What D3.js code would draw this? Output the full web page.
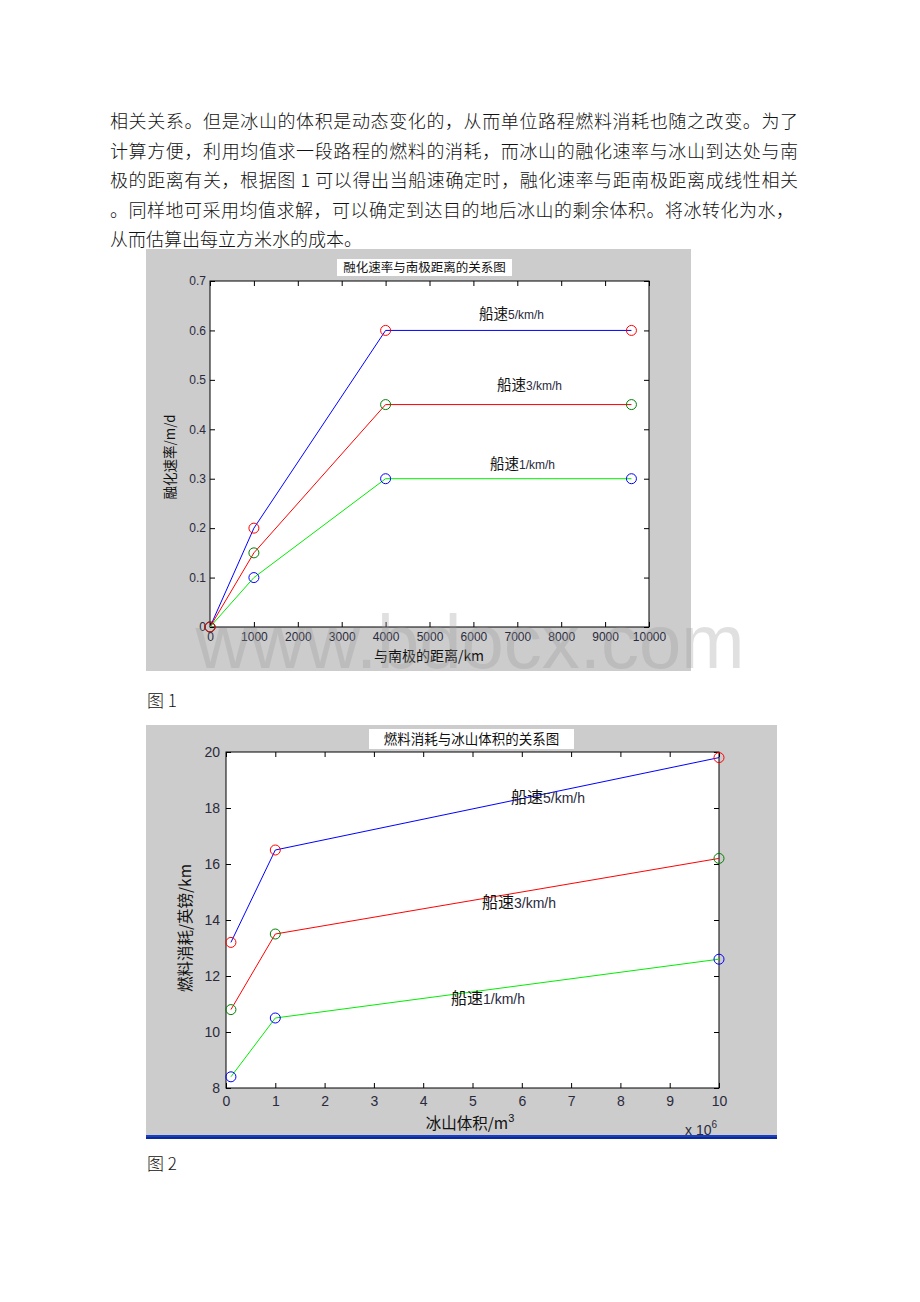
<!DOCTYPE html>
<html><head><meta charset="utf-8">
<script src="https://cdn.jsdelivr.net/npm/d3@7/dist/d3.min.js"></script>
<style>
html,body{margin:0;padding:0;background:#fff;}
svg{display:block;}
</style></head>
<body>
<svg id="page" width="920" height="1302"></svg>
<script>
// ---------- data ----------
const paragraph = [
  "相关关系。但是冰山的体积是动态变化的，从而单位路程燃料消耗也随之改变。为了",
  "计算方便，利用均值求一段路程的燃料的消耗，而冰山的融化速率与冰山到达处与南",
  "极的距离有关，根据图 1 可以得出当船速确定时，融化速率与距南极距离成线性相关",
  "。同样地可采用均值求解，可以确定到达目的地后冰山的剩余体积。将冰转化为水，",
  "从而估算出每立方米水的成本。"
];
const speeds = [5, 3, 1];
// Figure 1: melt rate vs distance to South Pole
const dist = [0, 1000, 4000, 9600];
const melt5 = [0, 0.2, 0.6, 0.6];
const melt3 = [0, 0.15, 0.45, 0.45];
const melt1 = [0, 0.1, 0.3, 0.3];
const distTicks = [0,1000,2000,3000,4000,5000,6000,7000,8000,9000,10000];
const meltTicks = [0,0.1,0.2,0.3,0.4,0.5,0.6,0.7];
// Figure 2: fuel consumption vs iceberg volume (x 10^6 m^3)
const vol = [0.1, 1, 10];
const fuel5 = [13.2, 16.5, 19.8];
const fuel3 = [10.8, 13.5, 16.2];
const fuel1 = [8.4, 10.5, 12.6];
const volTicks = [0,1,2,3,4,5,6,7,8,9,10];
const fuelTicks = [8,10,12,14,16,18,20];

const svg = d3.select("#page");
const CJK = "'Noto Sans CJK SC','Noto Sans',sans-serif";
const NUM = "'Liberation Sans',Arial,sans-serif";
const TICKCOL = "#2a2a3c";

// ---------- paragraph ----------
paragraph.forEach((t, i) => {
  const tx = svg.append("text")
    .attr("x", 110).attr("y", 128 + i * 29.5)
    .attr("font-family", CJK).attr("font-size", 18).attr("font-weight", 300)
    .attr("fill", "#111").text(t);
  if (i < 4) tx.attr("textLength", i === 3 ? 684 : 688).attr("lengthAdjust", "spacing");
});

function drawChart(o) {
  const g = svg.append("g");
  g.append("rect").attr("x", o.panel[0]).attr("y", o.panel[1])
    .attr("width", o.panel[2]).attr("height", o.panel[3]).attr("fill", "#cccccc");
  const x = d3.scaleLinear().domain(o.xDomain).range([o.plot[0], o.plot[1]]);
  const y = d3.scaleLinear().domain(o.yDomain).range([o.plot[3], o.plot[2]]);
  g.append("rect").attr("x", o.plot[0]).attr("y", o.plot[2])
    .attr("width", o.plot[1]-o.plot[0]).attr("height", o.plot[3]-o.plot[2])
    .attr("fill", "#fff");

  // axes with inward ticks on all four sides
  const tl = 5;
  const mk = (axis, tr) => g.append("g").attr("transform", tr).call(axis)
    .call(s => s.select(".domain").remove())
    .call(s => s.selectAll("line").attr("stroke", "#000"));
  const bottom = mk(d3.axisBottom(x).tickValues(o.xTicks).tickSize(-tl).tickFormat(o.xFmt),
                    `translate(0,${o.plot[3]})`);
  bottom.selectAll("text").attr("y", o.xLabOff).attr("font-family", NUM)
    .attr("font-size", o.tickFont).attr("fill", TICKCOL);
  mk(d3.axisTop(x).tickValues(o.xTicks).tickSize(-tl).tickFormat(""), `translate(0,${o.plot[2]})`);
  const left = mk(d3.axisLeft(y).tickValues(o.yTicks).tickSize(-tl).tickFormat(o.yFmt),
                  `translate(${o.plot[0]},0)`);
  left.selectAll("text").attr("x", -o.yLabOff).attr("font-family", NUM)
    .attr("font-size", o.tickFont).attr("fill", TICKCOL);
  mk(d3.axisRight(y).tickValues(o.yTicks).tickSize(-tl).tickFormat(""), `translate(${o.plot[1]},0)`);
  g.append("rect").attr("x", o.plot[0]).attr("y", o.plot[2])
    .attr("width", o.plot[1]-o.plot[0]).attr("height", o.plot[3]-o.plot[2])
    .attr("fill", "none").attr("stroke", "#000").attr("stroke-width", 1);

  // series
  const line = d3.line().x(d => x(d[0])).y(d => y(d[1]));
  o.series.forEach(s => {
    const pts = o.xs.map((v, i) => [v, s.vals[i]]);
    g.append("path").datum(pts).attr("d", line).attr("fill", "none")
      .attr("stroke", s.line).attr("stroke-width", 1);
  });
  o.series.slice().reverse().forEach(s => {
    const pts = o.xs.map((v, i) => [v, s.vals[i]]);
    g.selectAll(null).data(pts).enter().append("circle")
      .attr("cx", d => x(d[0])).attr("cy", d => y(d[1])).attr("r", 5)
      .attr("fill", "none").attr("stroke", s.marker).attr("stroke-width", 1);
  });
  // series labels
  o.series.forEach((s, i) => {
    const t = g.append("text").attr("x", o.labelPos[i][0]).attr("y", o.labelPos[i][1]);
    t.append("tspan").attr("font-family", CJK).attr("font-size", o.labFont[0])
      .attr("fill", "#111").text("船速");
    t.append("tspan").attr("font-family", NUM).attr("font-size", o.labFont[1])
      .attr("fill", TICKCOL).text(s.speed + "/km/h");
  });

  // title
  g.append("rect").attr("x", o.titleBox[0]).attr("y", o.titleBox[1])
    .attr("width", o.titleBox[2]).attr("height", o.titleBox[3]).attr("fill", "#fff");
  g.append("text").attr("x", o.titleBox[0] + o.titleBox[2]/2)
    .attr("y", o.titleBox[1] + o.titleBox[3]/2 + o.titleFont*0.36)
    .attr("text-anchor", "middle").attr("font-family", CJK)
    .attr("font-size", o.titleFont).attr("fill", "#111").text(o.title);
  return {g, x, y};
}

// ---------- Figure 1 ----------
const c1 = drawChart({
  panel: [146, 249, 545, 422],
  plot: [210, 649, 281, 627],
  xDomain: [0, 10000], yDomain: [0, 0.7],
  xTicks: distTicks, yTicks: meltTicks,
  xFmt: d3.format("d"), yFmt: d => d === 0 ? "0" : d3.format(".1f")(d),
  xLabOff: 5, yLabOff: 4, tickFont: 12,
  xs: dist,
  series: [
    {speed: speeds[0], vals: melt5, line: "#0000ff", marker: "#ff0000"},
    {speed: speeds[1], vals: melt3, line: "#ff0000", marker: "#008000"},
    {speed: speeds[2], vals: melt1, line: "#00ee00", marker: "#0000ff"}
  ],
  labelPos: [[479, 319], [497, 390], [490, 469]],
  labFont: [14.5, 12],
  titleBox: [337, 259, 175, 17], titleFont: 12.5,
  title: "融化速率与南极距离的关系图"
});
c1.g.append("text").attr("x", 429).attr("y", 661).attr("text-anchor", "middle")
  .attr("font-family", CJK).attr("font-size", 14).attr("fill", "#111")
  .text("与南极的距离/km");
c1.g.append("text").attr("transform", "translate(175,457) rotate(-90)")
  .attr("text-anchor", "middle").attr("font-family", CJK).attr("font-size", 13.5)
  .attr("fill", "#111").text("融化速率/m/d");

// caption 1
svg.append("text").attr("x", 147).attr("y", 707).attr("font-family", CJK)
  .attr("font-size", 17).attr("font-weight", 300).attr("fill", "#111").text("图 1");

// ---------- Figure 2 ----------
const c2 = drawChart({
  panel: [146, 725, 631, 412],
  plot: [226, 719, 752, 1088],
  xDomain: [0, 10], yDomain: [8, 20],
  xTicks: volTicks, yTicks: fuelTicks,
  xFmt: d3.format("d"), yFmt: d3.format("d"),
  xLabOff: 8, yLabOff: 6, tickFont: 14,
  xs: vol,
  series: [
    {speed: speeds[0], vals: fuel5, line: "#0000ff", marker: "#ff0000"},
    {speed: speeds[1], vals: fuel3, line: "#ff0000", marker: "#008000"},
    {speed: speeds[2], vals: fuel1, line: "#00ee00", marker: "#0000ff"}
  ],
  labelPos: [[511, 803], [482, 908], [451, 1004]],
  labFont: [16, 14],
  titleBox: [369, 729, 205, 20], titleFont: 13.5,
  title: "燃料消耗与冰山体积的关系图"
});
const xl = c2.g.append("text").attr("x", 470).attr("y", 1129).attr("text-anchor", "middle")
  .attr("font-family", CJK).attr("font-size", 15.5).attr("fill", "#111");
xl.append("tspan").text("冰山体积/m");
xl.append("tspan").attr("font-family", NUM).attr("font-size", 11).attr("dy", -7).text("3");
const xm = c2.g.append("text").attr("x", 685).attr("y", 1135)
  .attr("font-family", NUM).attr("font-size", 14).attr("fill", TICKCOL);
xm.append("tspan").text("x 10");
xm.append("tspan").attr("font-size", 10).attr("dy", -7).text("6");
c2.g.append("text").attr("transform", "translate(191,928) rotate(-90)")
  .attr("text-anchor", "middle").attr("font-family", CJK).attr("font-size", 15.5)
  .attr("fill", "#111").text("燃料消耗/英镑/km");
// blue window bar under figure 2
svg.append("rect").attr("x", 146).attr("y", 1135).attr("width", 631).attr("height", 4)
  .attr("fill", "#1a3fbf");
svg.append("rect").attr("x", 146).attr("y", 1137).attr("width", 631).attr("height", 2)
  .attr("fill", "#0a2a9a");

// caption 2
svg.append("text").attr("x", 147).attr("y", 1170).attr("font-family", CJK)
  .attr("font-size", 17).attr("font-weight", 300).attr("fill", "#111").text("图 2");

// watermark
svg.append("text").attr("x", 470).attr("y", 668).attr("text-anchor", "middle")
  .attr("font-family", "'Liberation Sans',Arial,sans-serif").attr("font-size", 76)
  .attr("fill", "#999999").attr("fill-opacity", 0.3).text("www.bdocx.com");
</script>
</body></html>
